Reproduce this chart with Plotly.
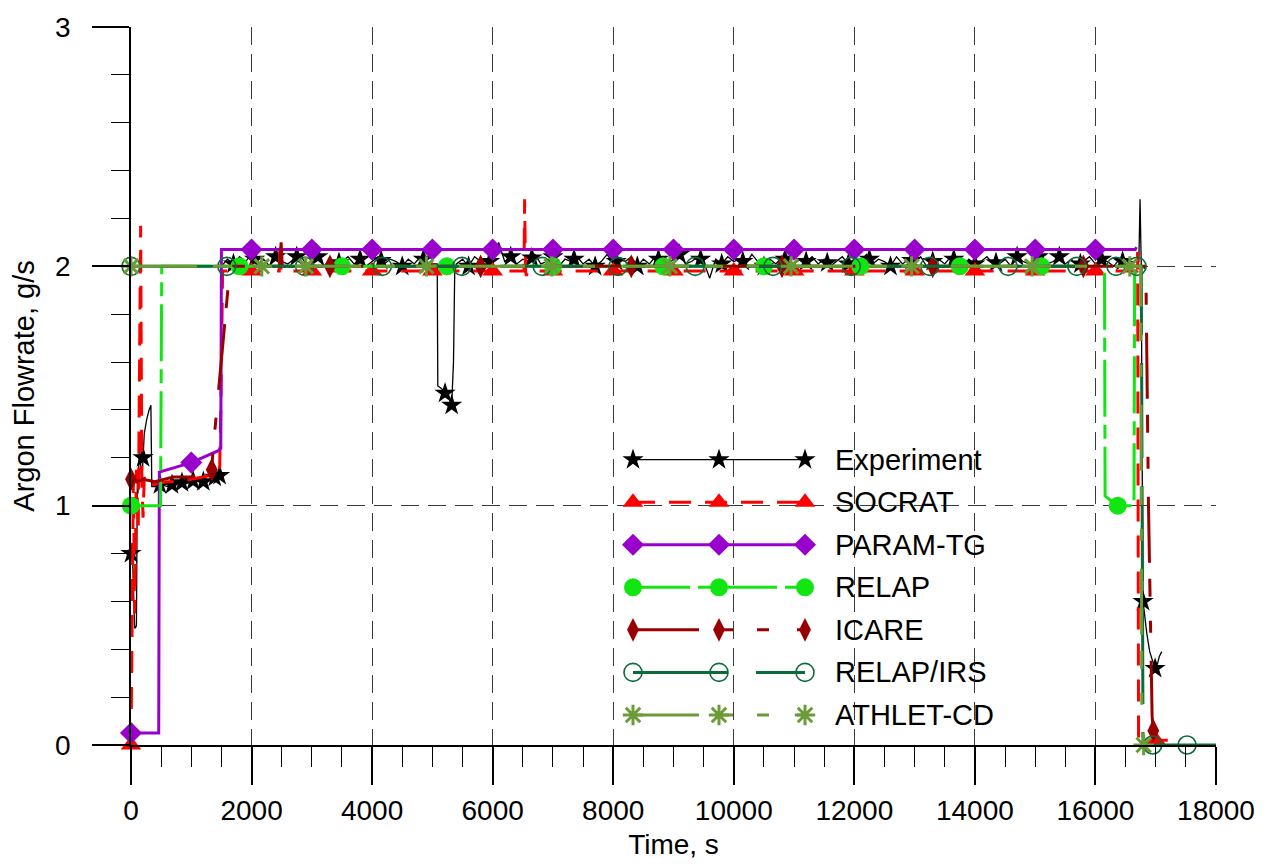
import numpy as np
import plotly.graph_objects as go

# ------------------------------------------------------------------
# Argon flowrate, g/s versus time, s
# ------------------------------------------------------------------

# Experiment: start-up transient, two plateaus, a dip and the final drop
exp_early_t = [0, 30, 60, 75, 90, 105, 115, 140, 180, 220, 260, 300, 330, 345,
               400, 500, 600, 700, 800, 900, 1000, 1100, 1200, 1300, 1400, 1450, 1480]
exp_early_v = [0.80, 0.75, 0.49, 0.49, 0.50, 1.12, 1.05, 1.25, 1.10, 1.30, 1.36, 1.40, 1.42, 1.08,
               1.08, 1.09, 1.08, 1.09, 1.10, 1.09, 1.10, 1.11, 1.10, 1.11, 1.12, 1.12, 1.13]
# 1500 ... 5000 s, 100 s sampling
exp_plat1_v = [2.00, 2.03, 2.01, 2.04, 2.02, 2.05, 2.01, 2.03, 2.00, 2.04,
               2.02, 2.01, 2.03, 2.05, 2.01, 2.02, 2.04, 2.00, 2.03, 2.01,
               2.02, 2.04, 2.01, 2.03, 2.00, 2.02, 2.04, 2.01, 2.03, 2.02,
               2.00, 2.03, 2.01, 2.04, 2.02, 2.01]
exp_dip_t = [5080, 5090, 5150, 5210, 5280, 5320, 5350, 5370]
exp_dip_v = [2.01, 1.50, 1.49, 1.47, 1.45, 1.42, 1.60, 1.97]
# 5400 ... 16700 s, 100 s sampling
exp_plat2_v = [2.01, 2.03, 2.00, 2.04, 2.02, 2.03, 2.01, 2.10, 2.02, 2.04,
               2.01, 2.03, 2.02, 2.05, 2.01, 2.02, 2.04, 2.00, 2.03, 2.02,
               2.04, 2.01, 2.03, 2.00, 2.02, 2.05, 2.01, 2.03, 2.02, 2.04,
               2.00, 2.03, 2.01, 2.04, 2.02, 2.01, 2.03, 2.05, 2.01, 2.02,
               2.04, 2.02, 1.95, 2.03, 2.01, 2.04, 2.02, 2.03, 2.01, 2.05,
               2.02, 2.00, 2.03, 2.01, 2.04, 2.02, 2.01, 2.03, 2.02, 2.04,
               2.01, 2.03, 2.00, 2.02, 2.04, 2.01, 2.03, 2.02, 2.05, 2.01,
               2.03, 2.02, 2.00, 2.04, 2.01, 2.03, 2.02, 2.04, 2.00, 2.02,
               2.03, 2.01, 2.04, 2.02, 2.00, 2.03, 2.01, 2.02, 2.04, 2.01,
               2.02, 2.03, 2.00, 2.04, 2.02, 2.01, 2.03, 2.05, 2.01, 2.02,
               2.04, 2.01, 2.03, 2.00, 2.02, 2.04, 2.01, 2.03, 2.02, 2.00,
               2.03, 2.01, 2.02, 2.02]
exp_end_t = [16720, 16740, 16760, 16775, 16790, 16850, 16900, 16950, 16990, 17030, 17060, 17100]
exp_end_v = [2.02, 2.28, 2.00, 1.20, 0.60, 0.47, 0.39, 0.35, 0.32, 0.34, 0.37, 0.39]
exp_mark_t = [0, 200, 480, 680, 845, 1030, 1200, 1390, 1470,
              1700, 2050, 2400, 2750, 3100, 3450, 3800, 4150, 4500, 4850, 5210, 5320,
              5600, 5950, 6300, 6650, 7000, 7350, 7700, 8050, 8400, 8750, 9100, 9450,
              9800, 10150, 10500, 10850, 11200, 11550, 11900, 12250, 12600, 12950,
              13300, 13650, 14000, 14350, 14700, 15050, 15400, 15750, 16100, 16450,
              16790, 16990]

# SOCRAT
soc_t = [0, 40, 60, 90, 120, 160, 180, 200, 220, 260, 400, 600, 800, 1000, 1200, 1400, 1470, 1490,
         1520, 2460, 2470, 2490, 6520, 6530, 6545, 6560, 6580, 16690, 16700, 16715, 17200]
soc_v = [0.00, 1.12, 0.55, 1.15, 0.90, 2.17, 1.10, 0.95, 1.12, 1.08, 1.09, 1.10, 1.10, 1.11, 1.12, 1.13, 1.15, 1.40,
         1.98, 1.98, 2.10, 1.98, 1.98, 2.28, 1.98, 1.96, 1.98, 1.98, 2.06, 0.02, 0.02]
soc_mark_t = [0, 2000, 3000, 4000, 5000, 6000, 7000, 8000, 9000, 10000, 11000, 12000,
              13000, 14000, 15000, 16000, 17000]

# PARAM-TG
par_t = [0, 460, 470, 1000, 1450, 1490, 1500, 16660, 16680]
par_v = [0.05, 0.05, 1.14, 1.18, 1.23, 1.24, 2.07, 2.07, 2.08]
par_mark_t = [0, 1000, 2000, 3000, 4000, 5000, 6000, 7000, 8000, 9000, 10000, 11000,
              12000, 13000, 14000, 15000, 16000]

# RELAP
rel_t = [0, 490, 510, 16150, 16160, 16370, 16640, 16650]
rel_v = [1.00, 1.00, 2.00, 2.00, 1.04, 1.00, 1.00, 2.00]
rel_mark_t = [0, 1800, 3500, 5240, 7000, 8830, 10500, 12100, 13750, 15100, 16370]

# ICARE
ica_t = [0, 100, 200, 400, 700, 1000, 1340, 1360, 1610, 1700, 2470, 2490, 2510,
         16820, 16840, 16880, 16940, 16960]
ica_v = [1.11, 1.10, 1.11, 1.10, 1.12, 1.12, 1.15, 1.23, 1.91, 2.00, 2.00, 2.10, 2.00,
         2.00, 1.90, 1.00, 0.12, 0.06]
ica_mark_t = [0, 1340, 3300, 5800, 8300, 10800, 13300, 15800, 16960]

# RELAP/IRS
irs_t = [0, 16760, 16790, 18000]
irs_v = [2.00, 2.00, 0.00, 0.00]
irs_mark_t = [0, 1590, 2880, 4170, 5490, 6820, 8080, 9360, 10650, 11950, 13250,
              14550, 15690, 16340, 16690, 16950, 17520]

# ATHLET-CD
ath_t = [0, 16750, 16770, 16800]
ath_v = [2.00, 2.00, 0.10, 0.00]
ath_mark_t = [0, 2170, 2900, 4900, 6980, 8940, 10950, 12950, 14950, 16570, 16800]

x_tick_vals = [0, 2000, 4000, 6000, 8000, 10000, 12000, 14000, 16000, 18000]
y_tick_vals = [0, 1, 2, 3]

# ------------------------------------------------------------------
exp_t = (exp_early_t
         + list(np.linspace(1500, 5000, len(exp_plat1_v)))
         + exp_dip_t
         + list(np.linspace(5400, 16700, len(exp_plat2_v)))
         + exp_end_t)
exp_v = exp_early_v + exp_plat1_v + exp_dip_v + exp_plat2_v + exp_end_v

FONT = "Arial, 'Liberation Sans', sans-serif"

series = [
    dict(name="Experiment", t=exp_t, v=exp_v, mt=exp_mark_t, color="black", width=1.3,
         dash="solid", symbol="star", msize=16, open=False),
    dict(name="SOCRAT", t=soc_t, v=soc_v, mt=soc_mark_t, color="#ff0000", width=3,
         dash="22px,14px", symbol="triangle-up", msize=18, open=False),
    dict(name="PARAM-TG", t=par_t, v=par_v, mt=par_mark_t, color="#9900cc", width=3,
         dash="solid", symbol="diamond", msize=17, open=False),
    dict(name="RELAP", t=rel_t, v=rel_v, mt=rel_mark_t, color="#12e612", width=3,
         dash="57px,8px,14px,8px", symbol="circle", msize=18, open=False),
    dict(name="ICARE", t=ica_t, v=ica_v, mt=ica_mark_t, color="#990000", width=3,
         dash="66px,16px,18px,24px,12px,28px", symbol="diamond-tall", msize=17, open=False),
    dict(name="RELAP/IRS", t=irs_t, v=irs_v, mt=irs_mark_t, color="#0b6b3a", width=3,
         dash="95px,28px", symbol="circle-open", msize=18, open=True),
    dict(name="ATHLET-CD", t=ath_t, v=ath_v, mt=ath_mark_t, color="#6b9b37", width=3,
         dash="66px,16px,18px,24px,12px,28px", symbol="asterisk", msize=17, open=True),
]


def marker_style(s):
    if s["open"]:
        return dict(symbol=s["symbol"], size=s["msize"], color=s["color"],
                    line=dict(color=s["color"], width=3 if s["symbol"] == "asterisk" else 1.6))
    return dict(symbol=s["symbol"], size=s["msize"], color=s["color"], line=dict(width=0))


fig = go.Figure()

for s in series:
    fig.add_trace(go.Scatter(x=s["t"], y=s["v"], mode="lines", showlegend=False,
                             line=dict(color=s["color"], width=s["width"], dash=s["dash"])))
    my = np.interp(s["mt"], s["t"], s["v"])
    fig.add_trace(go.Scatter(x=s["mt"], y=my, mode="markers", showlegend=False,
                             cliponaxis=False, marker=marker_style(s)))

# ------------------------------------------------------------------
# legend block drawn on an overlay frame (0..1 over the plot area)
PLOT_L, PLOT_R, PLOT_T, PLOT_B = 131, 1216, 23, 745


def fx(px):
    return (px - PLOT_L) / (PLOT_R - PLOT_L)


def fy(py):
    return (PLOT_B - py) / (PLOT_B - PLOT_T)


LEG_X0, LEG_XM, LEG_X1, LEG_TX = 633, 719, 805, 833
LEG_ROW0, LEG_DY = 458, 42.8

fig.add_shape(type="rect", xref="paper", yref="paper",
              x0=fx(616), x1=fx(1003), y0=fy(735), y1=fy(437),
              fillcolor="white", line=dict(width=0), layer="between")

for i, s in enumerate(series):
    yy = fy(LEG_ROW0 + i * LEG_DY)
    fig.add_trace(go.Scatter(x=[fx(LEG_X0), fx(LEG_X1)], y=[yy, yy], xaxis="x2", yaxis="y2",
                             mode="lines", showlegend=False, hoverinfo="skip",
                             line=dict(color=s["color"], width=s["width"], dash=s["dash"])))
    fig.add_trace(go.Scatter(x=[fx(LEG_X0), fx(LEG_XM), fx(LEG_X1)], y=[yy] * 3,
                             xaxis="x2", yaxis="y2", mode="markers", showlegend=False,
                             hoverinfo="skip", cliponaxis=False, marker=marker_style(s)))
    fig.add_annotation(x=fx(LEG_TX), y=yy, xref="paper", yref="paper", text=s["name"],
                       showarrow=False, xanchor="left", yanchor="middle",
                       font=dict(family=FONT, size=29, color="black"))

GRID = dict(showgrid=True, gridcolor="#3a3a3a", gridwidth=1.2, griddash="18px,9px")

fig.update_layout(
    width=1276, height=868,
    margin=dict(l=PLOT_L, r=1276 - PLOT_R, t=PLOT_T, b=868 - PLOT_B),
    paper_bgcolor="white", plot_bgcolor="white",
    font=dict(family=FONT, size=28, color="black"),
    showlegend=False,
    xaxis=dict(range=[0, 18000], tickvals=x_tick_vals, ticktext=[str(v) for v in x_tick_vals],
               showline=True, linecolor="black", linewidth=1.6, zeroline=False,
               ticks="outside", ticklen=38, tickwidth=1.6, tickcolor="black",
               tickfont=dict(family=FONT, size=28), ticklabelstandoff=2,
               minor=dict(dtick=500, ticks="outside", ticklen=20, tickwidth=1.4,
                          tickcolor="black", showgrid=False),
               title=dict(text="Time, s", font=dict(family=FONT, size=28), standoff=9),
               **GRID),
    yaxis=dict(range=[0, 3], tickvals=y_tick_vals, ticktext=[str(v) for v in y_tick_vals],
               showline=True, linecolor="black", linewidth=1.6, zeroline=False,
               ticks="outside", ticklen=37, tickwidth=1.6, tickcolor="black",
               tickfont=dict(family=FONT, size=28), ticklabelstandoff=16,
               minor=dict(dtick=0.2, ticks="outside", ticklen=18, tickwidth=1.4,
                          tickcolor="black", showgrid=False),
               title=dict(text="Argon Flowrate, g/s", font=dict(family=FONT, size=29), standoff=12),
               **GRID),
    xaxis2=dict(overlaying="x", range=[0, 1], visible=False),
    yaxis2=dict(overlaying="y", range=[0, 1], visible=False),
)

fig.write_html("out.html")
